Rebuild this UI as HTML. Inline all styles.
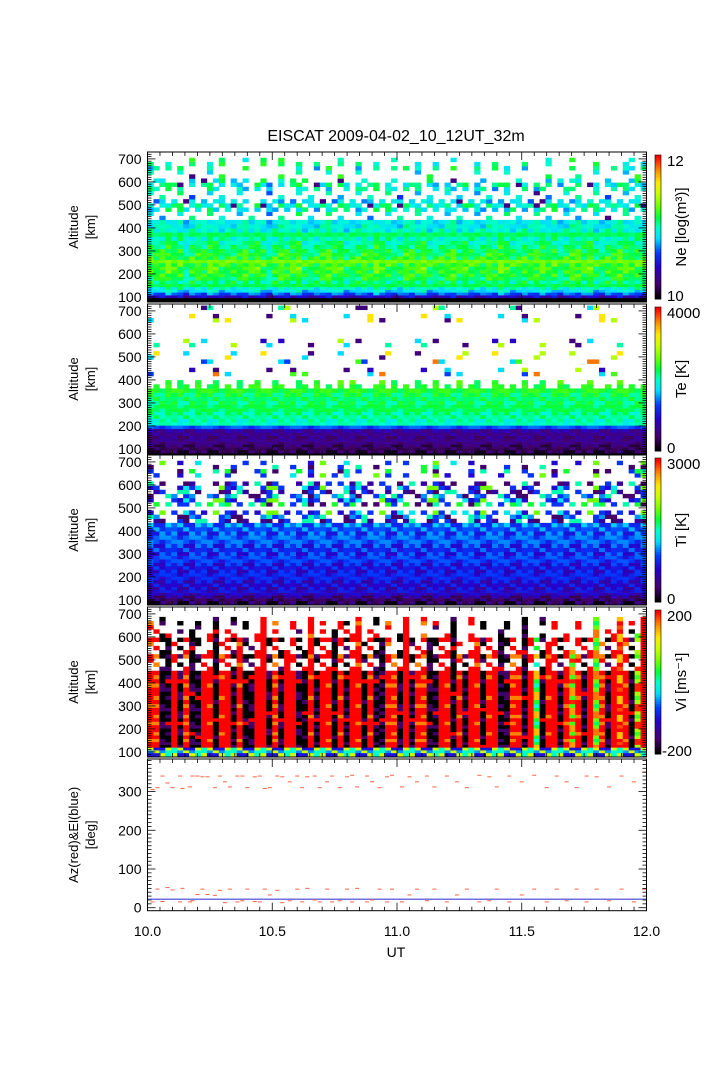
<!DOCTYPE html>
<html><head><meta charset="utf-8">
<style>
body{margin:0;background:#fff;}
svg text{font-family:"Liberation Sans",Arial,sans-serif;fill:#000;}
</style></head>
<body>
<svg id="fig" width="708" height="1063" viewBox="0 0 708 1063" xmlns="http://www.w3.org/2000/svg">
<rect width="708" height="1063" fill="#fff"/>
<text x="396" y="141" font-size="16" text-anchor="middle">EISCAT 2009-04-02_10_12UT_32m</text>
<g id="plots"></g>
<text x="396" y="957" font-size="14" text-anchor="middle">UT</text>
</svg>
<script>
// ---- data ----
const gates=[90,102,114,126,138,150,165,180,195,210,225,240,255,270,285,300,318,336,354,372,390,408,426,444,462,480,498,516,534,552,570,588,606,624,642,660,678,696,714];
const neProfile=[9.8,10.3,10.6,10.85,10.95,11.0,11.08,11.15,11.2,11.22,11.25,11.25,11.22,11.2,11.18,11.15,11.1,11.05,11.0,10.98,10.95,10.92,10.9,10.88,10.88,10.85,10.85,10.85,10.85,10.85,10.9,10.9,10.9,10.95,10.95,11.0,11.0,11.05,11.05];
const teProfile=[300,350,400,450,500,550,600,700,1300,2000,2100,2200,2200,2250,2250,2300,2300,2350,2400,2400,2500,2600,2600,2700,2700,2800,2800,2900,2900,3000,3000,3000,3100,3100,3200,3200,3200,3300,3300];
const tiProfile=[250,300,450,550,650,700,720,740,760,780,800,820,840,860,880,900,920,940,960,980,1000,1050,1100,1150,1200,1250,1300,1350,1400,1450,1500,1550,1600,1650,1700,1750,1800,1850,1850];
const colOff=[1,-2,0,3,-1,2,-3,1,0,-2,2,1,-1,3,0,-2,1,-1,2,0,-3,1,2,-1,0,3,-2,1,-1,0,2,-1,1,-3,2,0,1,-2,3,-1,0,1,-2,2,0,-1,3,-2,1,0,-1,2,-3,1,0,2,-1,1,-2,3,0,-1,2,1,-2,0,1,-3,2,-1,0,2,1,-1,3,-2,0,1,-1,2,0,-2,1,3];
const neTop=[700,660,620,700,600,660,520,700,560,620,700,640,700,520,660,600,700,480,620,700,600,560,700,500,640,700,620,560,700,600,660,520,700,620,560,700,640,600,700,540,620,700,580,660,600,700,520,640,700,560,620,700,600,640,540,700,620,560,700,600,660,520,620,700,560,640,600,700,540,620,580,700,640,560,600,700,520,620,660,600,700,700,660,700];
const teDenseTop=[370,380,360,390,370,400,380,360,390,370,380,400,360,380,370,390,360,380,400,370,360,390,380,370,360,400,380,370,390,360,380,370,400,360,390,380,370,360,380,390,370,400,360,380,370,390,380,360,400,370,380,360,390,370,380,400,360,370,390,380,360,380,370,390,360,380,400,370,360,390,380,370,360,380,390,370,360,380,370,390,360,380,370,380];
const tiTop=[700,660,700,640,600,700,620,660,700,560,640,700,600,660,700,620,700,580,660,700,640,700,620,560,700,660,600,700,640,700,620,660,700,700,640,700,600,660,700,620,700,560,640,700,660,600,700,620,700,640,660,700,600,560,700,620,700,640,600,660,700,620,580,700,660,640,700,600,700,620,660,560,700,640,620,700,600,660,640,700,620,700,660,700];
const viSign=[1,1,-1,-1,1,-1,1,-1,-1,1,1,-1,1,1,-1,1,-1,-1,1,1,-1,1,-1,1,1,-1,-1,1,-1,1,1,-1,1,-1,1,1,-1,1,-1,-1,1,1,-1,1,-1,1,1,-1,-1,1,1,-1,1,-1,1,1,-1,1,1,-1,-1,1,1,-1,1,0.3,-1,1,1,-1,1,0.5,1,-1,1,0.4,1,-1,1,0.6,1,-1,0.5,1];
const azTimes=[10.02,10.04,10.06,10.08,10.1,10.13,10.14,10.17,10.18,10.2,10.22,10.24,10.27,10.29,10.31,10.33,10.36,10.38,10.4,10.43,10.45,10.47,10.49,10.52,10.54,10.57,10.6,10.62,10.64,10.67,10.69,10.72,10.74,10.77,10.8,10.82,10.84,10.88,10.9,10.93,10.96,10.98,11.02,11.05,11.08,11.12,11.15,11.2,11.24,11.28,11.33,11.37,11.4,11.45,11.5,11.55,11.6,11.64,11.68,11.72,11.76,11.8,11.85,11.9,11.95,11.99];
const azHigh=[305,310,340,322,310,340,308,312,340,340,338,338,310,340,325,312,340,340,310,338,340,308,310,340,338,325,340,310,338,340,310,325,340,310,338,342,312,340,325,310,338,342,312,338,325,340,312,340,325,310,342,338,312,340,325,342,310,340,325,310,340,338,312,340,325,350];
const azLow=[15,48,16,52,46,15,50,15,18,34,48,34,32,45,13,48,15,18,48,16,15,48,33,45,13,18,48,15,50,20,15,48,15,18,48,15,50,15,20,48,15,48,15,33,48,18,48,15,33,48,15,18,48,15,33,48,15,48,18,48,15,48,18,48,15,48];
const elev=22;
const xTicks=[10.0,10.5,11.0,11.5,12.0];
const altTicks=[100,200,300,400,500,600,700];
const degTicks=[0,100,200,300];
// ---- layout ----
const X0=147.5,X1=646.5,T0=10,T1=12;
const xs=t=>X0+(t-T0)/(T1-T0)*(X1-X0);
const panels=[[152,302],[304,454],[455,605],[607,757]];
const A0=78,A1=730;
const NS="http://www.w3.org/2000/svg";
const root=document.getElementById('plots');
function mk(tag,attrs,parent){const e=document.createElementNS(NS,tag);for(const k in attrs)e.setAttribute(k,attrs[k]);(parent||root).appendChild(e);return e;}
const stops=[[0,0,0,0],[0.1,70,0,110],[0.22,40,0,200],[0.32,0,60,255],[0.42,0,220,255],[0.5,0,255,200],[0.57,0,255,60],[0.65,110,255,0],[0.74,200,255,0],[0.82,255,230,0],[0.91,255,130,0],[1,255,0,0]];
function cmap(f){f=Math.max(0,Math.min(1,f));for(let i=1;i<stops.length;i++){if(f<=stops[i][0]){const a=stops[i-1],b=stops[i];const u=(f-a[0])/(b[0]-a[0]);return `rgb(${Math.round(a[1]+u*(b[1]-a[1]))},${Math.round(a[2]+u*(b[2]-a[2]))},${Math.round(a[3]+u*(b[3]-a[3]))})`;}}return 'rgb(255,0,0)';}
const NC=colOff.length;
const dt=(T1-T0)/NC;
function mix(c,r,n){return ((c*c*7+r*r*11+c*r*3+c*13+r*5)%n);}
function drawHeat(pi,fn,name){
  const [yt,yb]=panels[pi];
  const ys=a=>yb-(a-A0)/(A1-A0)*(yb-yt);
  const g=mk('g',{});
  
  
  for(let c=0;c<NC;c++){
    for(let r=0;r<gates.length;r++){
      const v=fn(c,r);
      if(v===null)continue;
      const a0=r===0?A0:(gates[r-1]+gates[r])/2;
      const a1=r===gates.length-1?gates[r]+9:(gates[r]+gates[r+1])/2;
      const x=xs(T0+c*dt);
      mk('rect',{x:x.toFixed(2),y:ys(a1).toFixed(2),width:(xs(T0+(c+1)*dt)-x+0.3).toFixed(2),height:(ys(a0)-ys(a1)+0.3).toFixed(2),fill:cmap(v)},g);
    }
  }
}
drawHeat(0,(c,r)=>{const a=gates[r];if(a>neTop[c])return null;
  let v=neProfile[r]+0.05*(mix(c,r,7)-3)+0.02*colOff[c];
  if(a>440){if(mix(c,r,5)>=3)return null;v+=0.05*(mix(r,c,7)-3);if(mix(c,r,23)===0)v=10.1;}
  if(r===0)v=9.8;return (v-9.8)/2.4;},'ne-heatmap');
drawHeat(1,(c,r)=>{const a=gates[r];let v=teProfile[r]+90*(mix(c,r,5)-2);
  if(a>teDenseTop[c]){if(mix(c,r,13)!==0)return null;v=500+mix(r,c,9)*420;}
  return v/4200;},'te-heatmap');
drawHeat(2,(c,r)=>{const a=gates[r];if(a>tiTop[c])return null;let v=tiProfile[r]+100*(mix(c,r,5)-2);
  if(a>440){if(mix(c,r,7)>=4)return null;v=300+mix(r,c,9)*220;}
  return v/3150;},'ti-heatmap');
drawHeat(3,(c,r)=>{const a=gates[r];if(a>tiTop[c]-20)return null;
  if(a<125)return (0.5+0.25*(mix(c,r,5)-2)/2);
  if(a>440&&mix(c,r,4)===0)return null;
  let v=viSign[c]*260+40*(mix(c,r,5)-2);
  if(viSign[c]<0&&mix(c,r,11)===0)v=240;
  return (v+220)/440;},'vi-heatmap');

const cbInfo=[["12","10","Ne [log(m\u00b3)]","ne"],["4000","0","Te [K]","te"],["3000","0","Ti [K]","ti"],["200","-200","Vi [ms\u207b\u00b9]","vi"]];
panels.forEach(([yt,yb],pi)=>{
  const ys=a=>yb-(a-A0)/(A1-A0)*(yb-yt);
  const g=mk('g',{fill:'none',stroke:'#000'});
  
  
  mk('rect',{x:X0,y:yt,width:X1-X0,height:yb-yt,'stroke-width':1},g);
  for(let a=80;a<=730;a+=10){const y=ys(a);const L=(a%100===0)?8:4;mk('line',{x1:X0,x2:X0+L,y1:y,y2:y,'stroke-width':0.8},g);mk('line',{x1:X1,x2:X1-L,y1:y,y2:y,'stroke-width':0.8},g);}
  for(let t=10;t<=12.001;t+=0.05){const x=xs(t);const L=(Math.abs(t*2-Math.round(t*2))<0.01)?8:4;mk('line',{x1:x,x2:x,y1:yb,y2:yb-L,'stroke-width':0.8},g);mk('line',{x1:x,x2:x,y1:yt,y2:yt+L,'stroke-width':0.8},g);}
  altTicks.forEach(a=>{const tx=mk('text',{x:X0-6,y:ys(a)+5,'font-size':14,'text-anchor':'end'});tx.textContent=a;
    
    });
  const yl=(yt+yb)/2;
  const t1=mk('text',{x:0,y:0,'font-size':13,'text-anchor':'middle',transform:`translate(78,${yl}) rotate(-90)`});t1.textContent='Altitude';
  
  
  const t2=mk('text',{x:0,y:0,'font-size':13,'text-anchor':'middle',transform:`translate(95,${yl}) rotate(-90)`});t2.textContent='[km]';
  
  
  const cb=mk('g',{});
  
  
  const ct=yt+3,cbb=yb-3,n=60;
  for(let i=0;i<n;i++){mk('rect',{x:655,y:cbb-(i+1)*(cbb-ct)/n,width:6,height:(cbb-ct)/n+0.5,fill:cmap(i/(n-1))},cb);}
  mk('rect',{x:655,y:ct,width:6,height:cbb-ct,fill:'none',stroke:'#000','stroke-width':0.6},cb);
  const l1=mk('text',{x:667,y:ct+11,'font-size':15},cb);l1.textContent=cbInfo[pi][0];
  const l2=mk('text',{x:pi===3?662:667,y:cbb+2,'font-size':15},cb);l2.textContent=cbInfo[pi][1];
  const l3=mk('text',{x:0,y:0,'font-size':15,'text-anchor':'middle',transform:`translate(686,${(ct+cbb)/2}) rotate(-90)`},cb);l3.textContent=cbInfo[pi][2];
});

(function(){
  const yt=759,yb=910.7,D0=-7.7,D1=384;
  const ys=d=>yb-(d-D0)/(D1-D0)*(yb-yt);
  const g=mk('g',{});
  
  
  mk('line',{x1:X0,x2:X1,y1:ys(elev),y2:ys(elev),stroke:'#7070e0','stroke-width':1.5},g);
  azTimes.forEach((t,i)=>{
    const x=xs(t);
    const h=mk('line',{x1:x-2,x2:x+2,y1:ys(azHigh[i]),y2:ys(azHigh[i]),stroke:'#ff6040','stroke-width':1},g);
    
    
    const l=mk('line',{x1:x-2,x2:x+2,y1:ys(azLow[i]),y2:ys(azLow[i]),stroke:'#ff6040','stroke-width':1},g);
    
    
  });
  const ax=mk('g',{fill:'none',stroke:'#000'});
  
  
  mk('rect',{x:X0,y:yt,width:X1-X0,height:yb-yt},ax);
  for(let d=0;d<=380;d+=10){const y=ys(d);const L=d%100===0?8:4;mk('line',{x1:X0,x2:X0+L,y1:y,y2:y,'stroke-width':0.8},ax);mk('line',{x1:X1,x2:X1-L,y1:y,y2:y,'stroke-width':0.8},ax);}
  for(let t=10;t<=12.001;t+=0.05){const x=xs(t);const L=(Math.abs(t*2-Math.round(t*2))<0.01)?8:4;mk('line',{x1:x,x2:x,y1:yb,y2:yb-L,'stroke-width':0.8},ax);mk('line',{x1:x,x2:x,y1:yt,y2:yt+L,'stroke-width':0.8},ax);}
  degTicks.forEach(d=>{const tx=mk('text',{x:X0-6,y:ys(d)+5,'font-size':14,'text-anchor':'end'});tx.textContent=d;
    
    });
  const yl=(yt+yb)/2;
  const t1=mk('text',{x:0,y:0,'font-size':13,'text-anchor':'middle',transform:`translate(78,${yl}) rotate(-90)`});t1.textContent='Az(red)&El(blue)';
  
  
  const t2=mk('text',{x:0,y:0,'font-size':13,'text-anchor':'middle',transform:`translate(95,${yl}) rotate(-90)`});t2.textContent='[deg]';
  
  
  xTicks.forEach(t=>{const tx=mk('text',{x:xs(t),y:936,'font-size':14,'text-anchor':'middle'});tx.textContent=t.toFixed(1);
    
    });
})();
</script>
</body></html>
